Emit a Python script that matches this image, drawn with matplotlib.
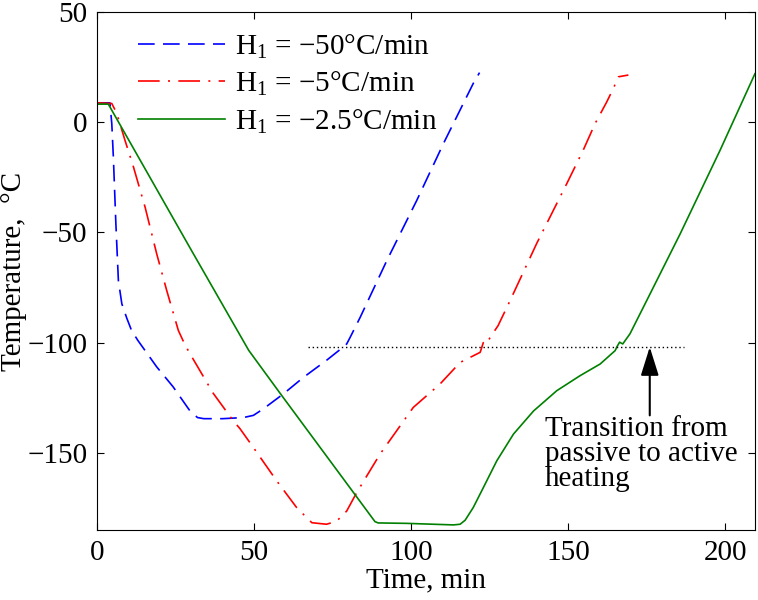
import matplotlib
matplotlib.use('Agg')
import matplotlib.pyplot as plt

# ── DONNÉES ──────────────────────────────────────────────────────────────────
t_50 = [0, 4.1, 4.7, 5.2, 6.0, 6.8, 7.9, 9.5, 11, 13, 16, 19, 24.2, 29.6, 32,
        34, 40, 46.6, 49.8, 53, 59.3, 65.7, 73.1, 78.4, 79.5, 80.6, 83.8,
        92.3, 101.8, 110.3, 119.8, 121.8]
T_50 = [8.8, 8.8, -0.6, -15.8, -46, -71.8, -82.4, -89, -94.5, -99, -105, -111,
        -120, -131, -134, -134.5, -134.5, -134, -133, -130, -123.3, -115.8,
        -108, -102, -100.6, -97.6, -88.5, -62.7, -35.5, -9.7, 17.6, 22.5]

t_5 = [0, 4.7, 6.3, 8.9, 11.6, 15.3, 19, 22.2, 25.9, 28, 30, 37, 43.4, 45.5,
       49.8, 57.2, 63.6, 68.4, 73.1, 76.3, 79.5, 82.7, 90.1, 100.7, 109.2,
       115.6, 122, 123, 123.6, 124.3, 125.2, 127.7, 131.5, 140, 149.6, 154.9,
       158.6, 162.3, 164.4, 166, 169.2]
T_5 = [8.8, 8.5, 4, -8.2, -20.3, -38.5, -59.7, -76.4, -94.5, -101, -106, -123,
       -135.5, -139, -147.6, -162.7, -174.9, -181.7, -182.4, -181, -176.4,
       -168, -150.6, -129.4, -118.8, -109, -104.4, -100, -99, -99.8, -97.6,
       -92.3, -81, -55, -27.8, -12.4, -0.6, 9.2, 15.3, 20.6, 21.4]

t_25 = [0, 3.6, 29.6, 48.3, 58.3, 88.5, 89.5, 98.6, 113.5, 115.6, 117.2,
        119.8, 123, 127.3, 132.6, 139, 146.4, 153.8, 160.2, 165, 165.5, 166.4,
        167.4, 169.7, 175, 185.7, 198.4, 209.5]
T_25 = [8.2, 8.2, -57, -103.5, -123, -181.2, -181.8, -182, -182.7, -182.4,
        -180.6, -174.8, -165.8, -153.6, -141.5, -131, -121.8, -115, -109.7,
        -103.6, -102, -99.8, -100.6, -96, -81, -50.6, -12.7, 22]

labels = ['H$_1$ = \u221250\u00b0C/min',
          'H$_1$ = \u22125\u00b0C/min',
          'H$_1$ = \u22122.5\u00b0C/min']

T_transition = -102
t_transition = [67.2, 187]
t_arrow = 176

# ── STYLE ────────────────────────────────────────────────────────────────────
plt.rcParams['font.family'] = ['Liberation Serif', 'DejaVu Serif']
plt.rcParams['mathtext.fontset'] = 'custom'
plt.rcParams['mathtext.rm'] = 'Liberation Serif'
plt.rcParams['font.size'] = 21

fig = plt.figure(figsize=(7.58, 6.0), dpi=100)
ax = fig.add_axes([0.128, 0.1167, 0.868, 0.8633])

ax.plot(t_50, T_50, color='blue', lw=1.2, dashes=(10, 5), label=labels[0])
ax.plot(t_5, T_5, color='red', lw=1.2, dashes=(13, 5, 1.2, 5), label=labels[1])
ax.plot(t_25, T_25, color='green', lw=1.2, label=labels[2])

ax.plot(t_transition, [T_transition] * 2, color='black', lw=1, ls=(0, (1, 2)))
ax.annotate('', xy=(t_arrow, T_transition), xytext=(t_arrow, -133),
            arrowprops=dict(arrowstyle='-|>,head_length=0.7,head_width=0.22',
                            color='black', lw=1.5,
                            mutation_scale=25, shrinkA=0, shrinkB=0))
ax.text(142.7, -133.5, 'Transition from\npassive to active\nheating',
        ha='left', va='top', linespacing=0.95)

ax.set_xlim(0, 209.5)
ax.set_ylim(-185, 50)
ax.set_xticks([0, 50, 100, 150, 200])
ax.set_yticks([-150, -100, -50, 0, 50])
ax.tick_params(direction='in', top=True, right=True, length=5, pad=7)
ax.set_xlabel('Time, min', labelpad=1)
ax.set_ylabel('Temperature,  \u00b0C', labelpad=0)

ax.legend(loc='upper left', bbox_to_anchor=(0.035, 0.995), frameon=False,
          handlelength=3.0, handletextpad=0.35, labelspacing=0.3,
          borderaxespad=0.2)

fig.savefig('out.png', dpi=100)
